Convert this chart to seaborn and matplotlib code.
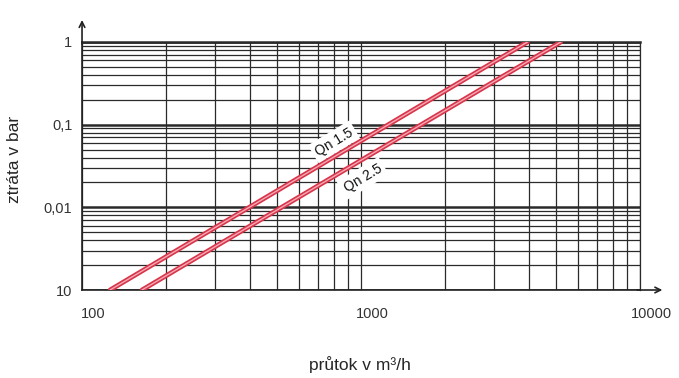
import pandas as pd
import matplotlib.pyplot as plt
import matplotlib.transforms as mtransforms
from matplotlib.ticker import LogLocator, NullFormatter
import seaborn as sns

# data (flow in m3/h, loss in bar)
series_names = ['Qn 1.5', 'Qn 2.5']
flow_qn15 = [126, 3950]
loss_qn15 = [0.001, 1.0]
flow_qn25 = [164, 5200]
loss_qn25 = [0.001, 1.0]

x_ticks = [100, 1000, 10000]
x_ticklabels = ['100', '1000', '10000']
y_ticks = [0.001, 0.01, 0.1, 1]
y_ticklabels = ['10', '0,01', '0,1', '1']

# label positions along the lines
label_flow = [800, 1015]
label_loss = [0.062, 0.0225]

df = pd.DataFrame({
    'flow': flow_qn15 + flow_qn25,
    'loss': loss_qn15 + loss_qn25,
    'series': [series_names[0]] * len(flow_qn15) + [series_names[1]] * len(flow_qn25),
})

sns.set_style('white')
plt.rcParams['font.family'] = ['Liberation Sans', 'DejaVu Sans']

fig = plt.figure(figsize=(6.79, 3.78), dpi=100)
ax = fig.add_axes([0.1208, 0.2328, 0.8218, 0.6561])
ax.set_xscale('log')
ax.set_yscale('log')
ax.set_xlim(100, 10000)
ax.set_ylim(0.001, 1)

# grid
ax.xaxis.set_minor_locator(LogLocator(base=10, subs=range(2, 10)))
ax.yaxis.set_minor_locator(LogLocator(base=10, subs=range(2, 10)))
ax.xaxis.set_minor_formatter(NullFormatter())
ax.yaxis.set_minor_formatter(NullFormatter())
ax.grid(which='minor', color='#2a2a2a', linewidth=0.9, zorder=0)
ax.xaxis.grid(which='major', color='#2a2a2a', linewidth=0.9, zorder=0)
ax.yaxis.grid(which='major', color='#2a2a2a', linewidth=1.8, zorder=0)
ax.set_axisbelow(True)

# lines: red outer, pink core
sns.lineplot(data=df, x='flow', y='loss', hue='series',
             palette=['#d8344a', '#d8344a'], linewidth=3.4, legend=False, ax=ax, zorder=4)
sns.lineplot(data=df, x='flow', y='loss', hue='series',
             palette=['#f3a9b3', '#f3a9b3'], linewidth=1.0, legend=False, ax=ax, zorder=5)
ax.set_xlabel('')
ax.set_ylabel('')

for name, fx, fy in zip(series_names, label_flow, label_loss):
    ax.text(fx, fy, name, rotation=31, ha='center', va='center', fontsize=10,
            color='#111111', zorder=3,
            bbox=dict(facecolor='white', edgecolor='none', pad=2.5))

ax.set_xticks(x_ticks)
ax.set_xticklabels(x_ticklabels)
ax.set_yticks(y_ticks)
ax.set_yticklabels(y_ticklabels)
ax.tick_params(axis='both', which='both', length=0, labelsize=10.5, labelcolor='#333333')
ax.tick_params(axis='x', pad=12)
ax.tick_params(axis='y', pad=7)
shift = mtransforms.ScaledTranslation(8 / 72, 0, fig.dpi_scale_trans)
for lbl in ax.get_xticklabels():
    lbl.set_transform(lbl.get_transform() + shift)

ax.spines['top'].set_color('#2a2a2a')
ax.spines['top'].set_linewidth(1.8)
ax.spines['right'].set_color('#2a2a2a')
ax.spines['right'].set_linewidth(0.9)
for s in ['left', 'bottom']:
    ax.spines[s].set_color('#222222')
    ax.spines[s].set_linewidth(1.2)

# axis arrows
ax.annotate('', xy=(0, 1.1), xytext=(0, 0.98), xycoords='axes fraction',
            arrowprops=dict(arrowstyle='->', color='#222222', lw=1.2), annotation_clip=False)
ax.annotate('', xy=(1.045, 0), xytext=(0.99, 0), xycoords='axes fraction',
            arrowprops=dict(arrowstyle='->', color='#222222', lw=1.2), annotation_clip=False)

fig.text(0.022, 0.577, 'ztráta v bar', rotation=90, ha='center', va='center', fontsize=12.5)
fig.text(0.53, 0.035, 'průtok v m³/h', ha='center', va='center', fontsize=12.5)

fig.savefig('out.png', dpi=100)
